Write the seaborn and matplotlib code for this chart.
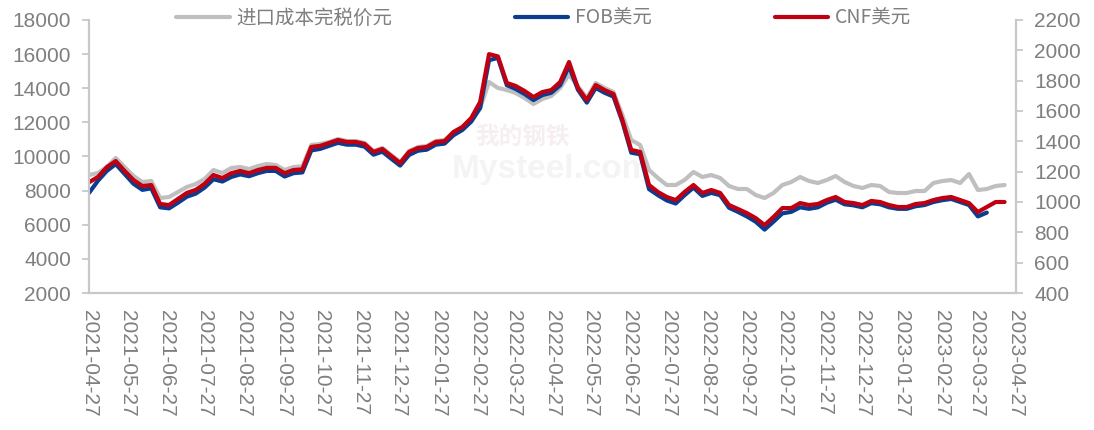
import numpy as np
import pandas as pd
import matplotlib
matplotlib.use('Agg')
import matplotlib.pyplot as plt
import seaborn as sns

# 周度取样 (2021-04-27 起, 每7天一个点)
dates = pd.date_range('2021-04-27', periods=104, freq='7D')

# 进口成本完税价 (元, 左轴)
cost_cny = [8915, 9033, 9384, 9912, 9384, 8857, 8505, 8564, 7567, 7626,
            7919, 8212, 8388, 8681, 9208, 9033, 9326, 9384, 9267, 9443,
            9560, 9502, 9208, 9384, 9420, 10674, 10732, 10850, 11025, 10908,
            10908, 10791, 10322, 10498, 10088, 9677, 10322, 10557, 10615, 10908,
            10967, 11377, 11670, 12139, 12842, 14366, 14015, 13897, 13721, 13428,
            13077, 13370, 13546, 14015, 14800, 14132, 13428, 14308, 14015, 13780,
            12432, 10967, 10674, 9208, 8740, 8329, 8329, 8622, 9091, 8798,
            8915, 8740, 8271, 8095, 8095, 7743, 7567, 7860, 8329, 8505,
            8798, 8564, 8447, 8622, 8857, 8505, 8271, 8154, 8329, 8271,
            7919, 7860, 7860, 7978, 7978, 8447, 8564, 8622, 8447, 8974,
            8036, 8095, 8271, 8329]

# FOB 美元 (右轴)
fob_usd = [1060, 1140, 1205, 1250, 1185, 1120, 1080, 1090, 965, 958,
           995, 1035, 1055, 1095, 1150, 1135, 1165, 1182, 1170, 1190,
           1205, 1205, 1168, 1190, 1195, 1340, 1350, 1370, 1390, 1378,
           1378, 1365, 1312, 1332, 1285, 1240, 1310, 1338, 1345, 1378,
           1385, 1440, 1475, 1530, 1620, 1935, 1950, 1770, 1745, 1712,
           1672, 1705, 1720, 1770, 1895, 1740, 1655, 1752, 1720, 1695,
           1530, 1325, 1315, 1085, 1045, 1010, 990, 1045, 1095, 1040,
           1060, 1045, 962, 935, 905, 870, 818, 870, 925, 935,
           965, 955, 965, 995, 1015, 985, 978, 965, 992, 985,
           965, 955, 955, 972, 980, 1000, 1012, 1020, 1000, 980,
           905, 930, np.nan, np.nan]

# CNF 美元 (右轴)
cnf_usd = [1130, 1165, 1230, 1270, 1205, 1145, 1105, 1112, 987, 980,
           1020, 1060, 1080, 1120, 1178, 1158, 1190, 1205, 1190, 1211,
           1225, 1225, 1190, 1211, 1215, 1363, 1370, 1389, 1409, 1396,
           1396, 1383, 1330, 1350, 1303, 1257, 1330, 1356, 1363, 1396,
           1402, 1462, 1495, 1554, 1660, 1975, 1960, 1785, 1765, 1732,
           1692, 1725, 1738, 1791, 1923, 1752, 1673, 1771, 1738, 1712,
           1541, 1343, 1330, 1112, 1066, 1033, 1013, 1066, 1112, 1060,
           1079, 1060, 980, 954, 927, 894, 848, 901, 960, 960,
           993, 980, 987, 1013, 1033, 1000, 993, 980, 1007, 1000,
           980, 967, 967, 987, 993, 1013, 1026, 1033, 1013, 993,
           934, 967, 1000, 1000]

labels = ['进口成本完税价元', 'FOB美元', 'CNF美元']
colors = ['#BFBFBF', '#0A3D8F', '#C00010']

tick_dates = pd.date_range('2021-04-01', '2023-04-01', freq='MS') + pd.Timedelta(days=26)

sns.set_theme(style='white')
plt.rcParams['font.family'] = ['Liberation Sans', 'Noto Sans CJK SC', 'DejaVu Sans']

df = pd.DataFrame({'date': dates, 'cost': cost_cny, 'fob': fob_usd, 'cnf': cnf_usd})

fig = plt.figure(figsize=(10.94, 4.30), dpi=100)
ax = fig.add_axes([0.0814, 0.3186, 0.8473, 0.6349])
ax2 = ax.twinx()

# 水印 (很淡)
ax.text(0.478, 0.683, '我的钢铁', transform=fig.transFigure, fontsize=17, color='#F6EEF0',
        family=['Noto Sans CJK SC'], fontweight='bold', ha='center', va='center', zorder=0)
ax.text(0.505, 0.605, 'Mysteel.com', transform=fig.transFigure, fontsize=24, color='#F4F4F4',
        fontweight='bold', ha='center', va='center', zorder=0)

sns.lineplot(data=df, x='date', y='cost', ax=ax, color=colors[0], lw=3.0, legend=False)
sns.lineplot(data=df, x='date', y='fob', ax=ax2, color=colors[1], lw=3.0, legend=False)
sns.lineplot(data=df, x='date', y='cnf', ax=ax2, color=colors[2], lw=3.0, legend=False)

ax.set_xlim(pd.Timestamp('2021-04-27'), pd.Timestamp('2023-04-27'))
ax.set_ylim(2000, 18000)
ax.set_yticks(range(2000, 18001, 2000))
ax2.set_ylim(400, 2200)
ax2.set_yticks(range(400, 2201, 200))
ax.set_xticks(tick_dates)
ax.set_xticklabels([d.strftime('%Y-%m-%d') for d in tick_dates], rotation=-90)

for a in (ax, ax2):
    a.set_xlabel('')
    a.set_ylabel('')
    a.spines['top'].set_visible(False)
    for s in ('left', 'right', 'bottom'):
        a.spines[s].set_color('#C8C8C8')
        a.spines[s].set_linewidth(1.5)
    a.tick_params(colors='#C8C8C8', labelcolor='#7F7F7F', labelsize=15,
                  length=5, width=1.3, pad=8)
ax.tick_params(axis='x', pad=7)

handles = [ax.lines[0], ax2.lines[0], ax2.lines[1]]
fig.legend(handles, labels, loc='center', bbox_to_anchor=(0.497, 0.958), ncol=3,
           frameon=False, prop=dict(family=['Noto Sans CJK SC', 'DejaVu Sans'], size=14),
           labelcolor='#7F7F7F', handlelength=2.75, handletextpad=0.35,
           columnspacing=6.3)

fig.savefig('out.png', dpi=100)
